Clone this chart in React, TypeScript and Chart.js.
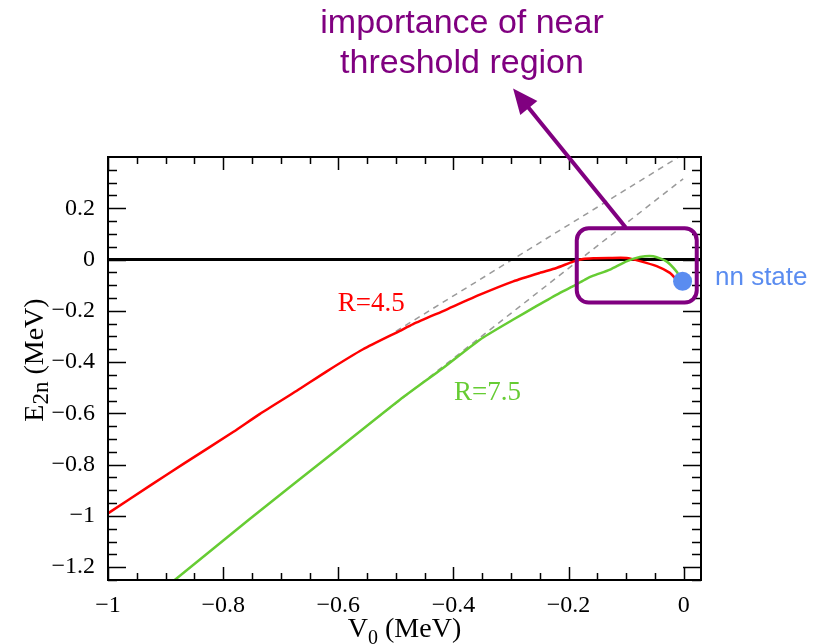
import React, { useEffect, useRef } from 'react';
import { Chart, registerables } from 'chart.js';

Chart.register(...registerables);

// R = 4.5 curve (V0, E2n)
const xR45 = [-1.0, -0.927, -0.869, -0.782, -0.736, -0.672, -0.62, -0.557, -0.493, -0.47, -0.412, -0.354, -0.296, -0.25, -0.221, -0.192, -0.175, -0.157, -0.13, -0.0995, -0.076, -0.047, -0.024, -0.0127];
const yR45 = [-0.99, -0.882, -0.797, -0.672, -0.602, -0.512, -0.436, -0.35, -0.278, -0.252, -0.195, -0.137, -0.085, -0.052, -0.033, -0.008, 0.002, 0.005, 0.006, 0.006, -0.006, -0.026, -0.052, -0.078];

// R = 7.5 curve
const xR75 = [-0.9, -0.756, -0.6, -0.493, -0.418, -0.354, -0.296, -0.256, -0.215, -0.192, -0.169, -0.157, -0.128, -0.0995, -0.076, -0.053, -0.03, -0.0127, -0.004];
const yR75 = [-1.279, -1.016, -0.738, -0.547, -0.423, -0.3125, -0.234, -0.182, -0.13, -0.104, -0.075, -0.063, -0.039, -0.007, 0.01, 0.013, -0.007, -0.046, -0.078];

// dashed asymptotic guides
const xGuide45 = [-0.5, -0.005];
const yGuide45 = [-0.28, 0.405];
const xGuide75 = [-0.548, -0.001];
const yGuide75 = [-0.645, 0.315];

// zero line
const xZero = [-1, 0.03];
const yZero = [0, 0];

// nn state point
const xNN = [-0.002];
const yNN = [-0.085];

// ticks
const xMajorTicks = [-1, -0.8, -0.6, -0.4, -0.2, 0];
const yMajorTicks = [-1.2, -1, -0.8, -0.6, -0.4, -0.2, 0, 0.2];
const xMinorTicks = [-0.95, -0.9, -0.85, -0.75, -0.7, -0.65, -0.55, -0.5, -0.45, -0.35, -0.3, -0.25, -0.15, -0.1, -0.05];
const yMinorTicks = [-1.25, -1.15, -1.1, -1.05, -0.95, -0.9, -0.85, -0.75, -0.7, -0.65, -0.55, -0.5, -0.45, -0.35, -0.3, -0.25, -0.15, -0.1, -0.05, 0.05, 0.1, 0.15, 0.25, 0.3, 0.35];

const pts = (xs: number[], ys: number[]) => xs.map((x, i) => ({ x, y: ys[i] }));

const fmt = (v: number) => {
  const r = Math.round(v * 10) / 10;
  return (r < 0 ? '\u2212' : '') + String(Math.abs(r));
};

const SERIF = "'Liberation Serif', 'Times New Roman', serif";
const SANS = "'Liberation Sans', Arial, sans-serif";
const PURPLE = '#800080';
const BLUE = '#5a8cf0';

const decorPlugin = {
  id: 'decor',
  afterDatasetsDraw(chart: any) {
    const { ctx, chartArea: a, scales } = chart;
    const x = scales.x;
    const y = scales.y;
    ctx.save();

    // inward tick marks on all four sides
    ctx.strokeStyle = '#000';
    ctx.lineWidth = 1.5;
    const drawX = (v: number, len: number) => {
      const px = Math.round(x.getPixelForValue(v)) + 0.5;
      ctx.beginPath();
      ctx.moveTo(px, a.bottom);
      ctx.lineTo(px, a.bottom - len);
      ctx.moveTo(px, a.top);
      ctx.lineTo(px, a.top + len);
      ctx.stroke();
    };
    const drawY = (v: number, len: number) => {
      const py = Math.round(y.getPixelForValue(v)) + 0.5;
      ctx.beginPath();
      ctx.moveTo(a.left, py);
      ctx.lineTo(a.left + len, py);
      ctx.moveTo(a.right, py);
      ctx.lineTo(a.right - len, py);
      ctx.stroke();
    };
    xMajorTicks.forEach((v) => drawX(v, 13));
    xMinorTicks.forEach((v) => drawX(v, 7));
    yMajorTicks.forEach((v) => drawY(v, 18));
    yMinorTicks.forEach((v) => drawY(v, 9));

    // frame
    ctx.lineWidth = 2;
    ctx.strokeRect(a.left, a.top, a.right - a.left, a.bottom - a.top);

    // curve labels
    ctx.font = `27px ${SERIF}`;
    ctx.textBaseline = 'alphabetic';
    ctx.textAlign = 'left';
    ctx.fillStyle = '#ff0000';
    ctx.fillText('R=4.5', x.getPixelForValue(-0.601), y.getPixelForValue(-0.202));
    ctx.fillStyle = '#66cc33';
    ctx.fillText('R=7.5', x.getPixelForValue(-0.399), y.getPixelForValue(-0.547));

    // purple rounded box
    const bx0 = x.getPixelForValue(-0.1858);
    const bx1 = x.getPixelForValue(0.0226);
    const by0 = y.getPixelForValue(0.122);
    const by1 = y.getPixelForValue(-0.168);
    ctx.strokeStyle = PURPLE;
    ctx.lineWidth = 4;
    ctx.beginPath();
    ctx.roundRect(bx0, by0, bx1 - bx0, by1 - by0, 12);
    ctx.stroke();

    // arrow
    const tx = x.getPixelForValue(-0.1007);
    const ty = y.getPixelForValue(0.125);
    const hx = x.getPixelForValue(-0.2964);
    const hy = y.getPixelForValue(0.667);
    const dx = hx - tx;
    const dy = hy - ty;
    const L = Math.hypot(dx, dy);
    const ux = dx / L;
    const uy = dy / L;
    const headLen = 25;
    const headHalf = 11;
    const baseX = hx - ux * headLen;
    const baseY = hy - uy * headLen;
    ctx.beginPath();
    ctx.moveTo(tx, ty);
    ctx.lineTo(baseX + ux * 2, baseY + uy * 2);
    ctx.stroke();
    ctx.fillStyle = PURPLE;
    ctx.beginPath();
    ctx.moveTo(hx, hy);
    ctx.lineTo(baseX - uy * headHalf, baseY + ux * headHalf);
    ctx.lineTo(baseX + uy * headHalf, baseY - ux * headHalf);
    ctx.closePath();
    ctx.fill();

    // headline annotation
    ctx.font = `34px ${SANS}`;
    ctx.textAlign = 'center';
    ctx.fillText('importance of near', 462, 33);
    ctx.fillText('threshold region', 462, 73);

    // nn state text
    ctx.font = `26px ${SANS}`;
    ctx.textAlign = 'left';
    ctx.fillStyle = BLUE;
    ctx.fillText('nn state', 715, 285);

    // x axis title: V_0 (MeV)
    ctx.fillStyle = '#000';
    const mainF = `28px ${SERIF}`;
    const subF = `20px ${SERIF}`;
    ctx.font = mainF;
    const wV = ctx.measureText('V').width;
    const wRest = ctx.measureText(' (MeV)').width;
    ctx.font = subF;
    const w0 = ctx.measureText('0').width;
    let cx = (a.left + a.right) / 2 - (wV + w0 + wRest) / 2;
    ctx.font = mainF;
    ctx.fillText('V', cx, 637);
    cx += wV;
    ctx.font = subF;
    ctx.fillText('0', cx, 644);
    cx += w0;
    ctx.font = mainF;
    ctx.fillText(' (MeV)', cx, 637);

    // y axis title: E_2n (MeV)
    ctx.save();
    ctx.translate(43, 360);
    ctx.rotate(-Math.PI / 2);
    const subF2 = `23px ${SERIF}`;
    ctx.font = mainF;
    const wE = ctx.measureText('E').width;
    const wR2 = ctx.measureText(' (MeV)').width;
    ctx.font = subF2;
    const w2n = ctx.measureText('2n').width;
    let ly = -(wE + w2n + wR2) / 2;
    ctx.font = mainF;
    ctx.fillText('E', ly, 0);
    ly += wE;
    ctx.font = subF2;
    ctx.fillText('2n', ly, 5);
    ly += w2n;
    ctx.font = mainF;
    ctx.fillText(' (MeV)', ly, 0);
    ctx.restore();

    ctx.restore();
  },
};

export default function App() {
  const ref = useRef<HTMLCanvasElement | null>(null);

  useEffect(() => {
    if (!ref.current) return;
    const chart = new Chart(ref.current, {
      type: 'scatter',
      data: {
        datasets: [
          {
            data: pts(xNN, yNN),
            pointRadius: 9.5,
            pointBackgroundColor: BLUE,
            pointBorderWidth: 0,
            showLine: false,
          },
          {
            data: pts(xR75, yR75),
            showLine: true,
            borderColor: '#66cc33',
            borderWidth: 2.5,
            pointRadius: 0,
            tension: 0.2,
          },
          {
            data: pts(xR45, yR45),
            showLine: true,
            borderColor: '#ff0000',
            borderWidth: 2.5,
            pointRadius: 0,
            tension: 0.2,
          },
          {
            data: pts(xZero, yZero),
            showLine: true,
            borderColor: '#000',
            borderWidth: 3,
            pointRadius: 0,
          },
          {
            data: pts(xGuide45, yGuide45),
            showLine: true,
            borderColor: '#9a9a9a',
            borderWidth: 1.5,
            borderDash: [6, 5],
            pointRadius: 0,
          },
          {
            data: pts(xGuide75, yGuide75),
            showLine: true,
            borderColor: '#9a9a9a',
            borderWidth: 1.5,
            borderDash: [6, 5],
            pointRadius: 0,
          },
        ],
      },
      options: {
        animation: false,
        responsive: false,
        devicePixelRatio: 1,
        layout: { padding: { left: 0, top: 157, right: 118, bottom: 0 } },
        plugins: { legend: { display: false }, tooltip: { enabled: false } },
        scales: {
          x: {
            type: 'linear',
            min: -1,
            max: 0.03,
            grid: { display: false },
            border: { display: false },
            afterBuildTicks: (s: any) => {
              s.ticks = xMajorTicks.map((v) => ({ value: v }));
            },
            afterFit: (s: any) => {
              s.height = 64;
            },
            ticks: {
              padding: 3,
              color: '#000',
              maxRotation: 0,
              autoSkip: false,
              font: { family: SERIF, size: 24 },
              callback: (v: any) => fmt(Number(v)),
            },
          },
          y: {
            type: 'linear',
            min: -1.25,
            max: 0.4,
            grid: { display: false },
            border: { display: false },
            afterBuildTicks: (s: any) => {
              s.ticks = yMajorTicks.map((v) => ({ value: v }));
            },
            afterFit: (s: any) => {
              s.width = 108;
            },
            ticks: {
              padding: 5,
              color: '#000',
              autoSkip: false,
              font: { family: SERIF, size: 24 },
              callback: (v: any) => fmt(Number(v)),
            },
          },
        },
      },
      plugins: [decorPlugin],
    });
    return () => chart.destroy();
  }, []);

  return (
    <div style={{ position: 'absolute', left: 0, top: 0, width: 819, height: 644, background: '#fff' }}>
      <canvas ref={ref} width={819} height={644} style={{ width: 819, height: 644, display: 'block' }} />
    </div>
  );
}
